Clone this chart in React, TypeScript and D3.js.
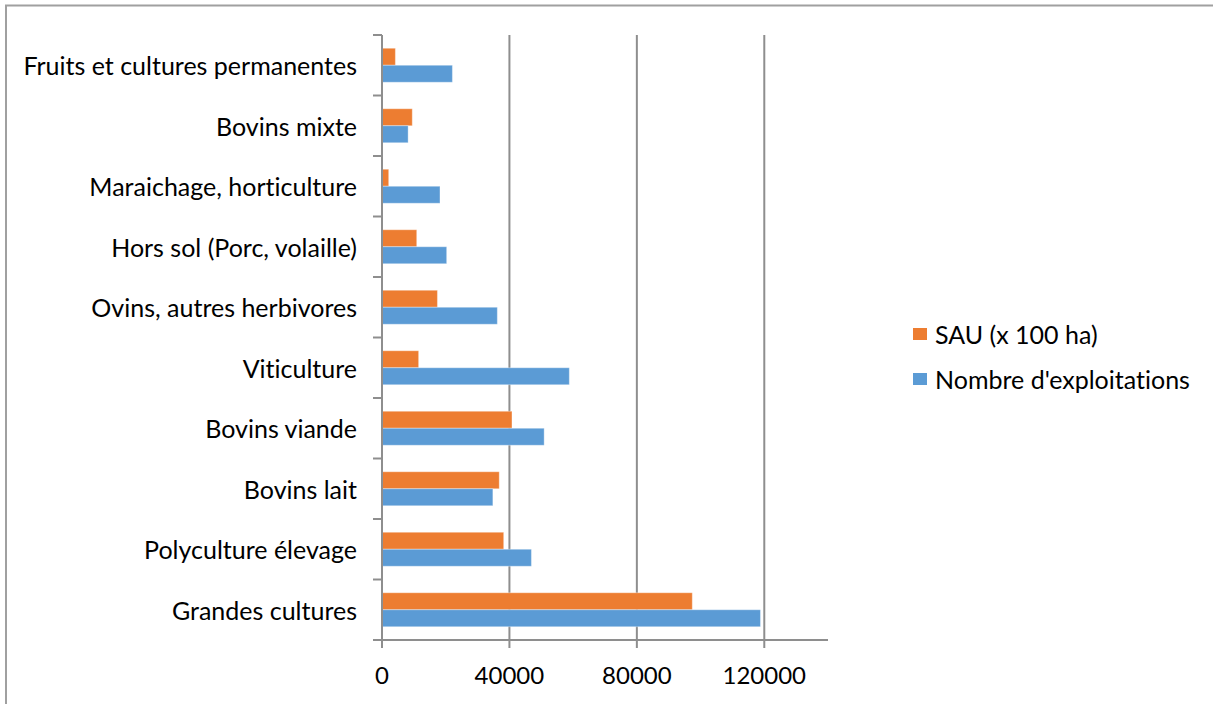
import React from "react";
import * as d3 from "d3";

// Farm types (top to bottom as drawn)
const categories = [
  "Fruits et cultures permanentes",
  "Bovins mixte",
  "Maraichage, horticulture",
  "Hors sol (Porc, volaille)",
  "Ovins, autres herbivores",
  "Viticulture",
  "Bovins viande",
  "Bovins lait",
  "Polyculture élevage",
  "Grandes cultures",
];

// SAU in hundreds of hectares
const sauValues = [4200, 9500, 2100, 10900, 17400, 11500, 40800, 36800, 38200, 97400];

// Number of farms
const exploitationValues = [22100, 8200, 18200, 20300, 36200, 58800, 50900, 34800, 46900, 118800];

const seriesNames = ["SAU (x 100 ha)", "Nombre d'exploitations"];
const seriesColors = ["#ED7D31", "#5B9BD5"];
const xTicks = [0, 40000, 80000, 120000];
const xMax = 140000;

const W = 1213;
const H = 704;
const FONT = "Lato, 'Open Sans', sans-serif";
const textStyle: React.CSSProperties = { fontVariantLigatures: "none", fontFeatureSettings: "'liga' 0, 'clig' 0" };

export default function App() {
  const left = 382;
  const right = 828;
  const top = 35;
  const bottom = 640;

  const x = d3.scaleLinear().domain([0, xMax]).range([left, right]);
  const y = d3.scaleBand<string>().domain(categories).range([top, bottom]).paddingInner(0).paddingOuter(0);
  const inner = d3
    .scaleBand<number>()
    .domain([0, 1])
    .range([0, y.bandwidth()])
    .paddingInner(0)
    .paddingOuter(0.78);

  const series = [sauValues, exploitationValues];
  const axisColor = "#8E8E8E";

  return (
    <div style={{ position: "absolute", left: 0, top: 0 }}>
      <svg width={W} height={H} style={{ display: "block", background: "#fff" }}>
        {/* chart frame */}
        <rect x={6} y={5.5} width={W + 20} height={H + 20} fill="#fff" stroke="#A0A0A0" strokeWidth={2} />

        {/* vertical gridlines */}
        {xTicks
          .filter((t) => t > 0)
          .map((t) => (
            <line key={"g" + t} x1={x(t)} x2={x(t)} y1={top} y2={bottom} stroke={axisColor} strokeWidth={2} />
          ))}

        {/* bars */}
        {categories.map((c, i) =>
          series.map((vals, s) => (
            <rect
              key={c + s}
              x={x(0)}
              y={(y(c) as number) + (inner(s) as number)}
              width={x(vals[i]) - x(0)}
              height={inner.bandwidth()}
              fill={seriesColors[s]}
              stroke="rgba(255,255,255,0.35)"
              strokeWidth={1}
            />
          ))
        )}

        {/* category axis */}
        <line x1={left} x2={left} y1={top} y2={bottom + 8} stroke={axisColor} strokeWidth={2} />
        {d3.range(categories.length + 1).map((k) => {
          const yy = top + k * y.step();
          return <line key={"ct" + k} x1={left - 9} x2={left} y1={yy} y2={yy} stroke={axisColor} strokeWidth={2} />;
        })}
        {categories.map((c) => (
          <text
            key={"l" + c}
            x={357}
            y={(y(c) as number) + y.bandwidth() / 2}
            textAnchor="end"
            dominantBaseline="central"
            fontFamily={FONT}
            fontSize={25}
            fill="#000"
            style={textStyle}
          >
            {c}
          </text>
        ))}

        {/* value axis */}
        <line x1={left - 9} x2={right} y1={bottom} y2={bottom} stroke={axisColor} strokeWidth={2} />
        {xTicks.map((t) => (
          <g key={"xt" + t}>
            <line x1={x(t)} x2={x(t)} y1={bottom} y2={bottom + 8} stroke={axisColor} strokeWidth={2} />
            <text x={x(t)} y={684} textAnchor="middle" fontFamily={FONT} fontSize={24} fill="#000" style={textStyle}>
              {t}
            </text>
          </g>
        ))}

        {/* legend */}
        {seriesNames.map((n, s) => {
          const ly = 334 + s * 45;
          return (
            <g key={"lg" + s}>
              <rect x={913} y={ly - 6} width={14} height={12} fill={seriesColors[s]} />
              <text
                x={935}
                y={ly}
                dominantBaseline="central"
                fontFamily={FONT}
                fontSize={25}
                fill="#000"
                style={textStyle}
              >
                {n}
              </text>
            </g>
          );
        })}
      </svg>
    </div>
  );
}
